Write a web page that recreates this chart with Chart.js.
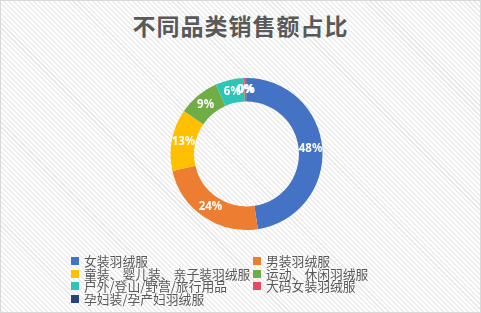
<!DOCTYPE html>
<html><head><meta charset="utf-8">
<script src="https://cdn.jsdelivr.net/npm/chart.js@4/dist/chart.umd.min.js"></script>
<style>
html,body{margin:0;padding:0;}
body{width:481px;height:313px;overflow:hidden;position:relative;
background:repeating-linear-gradient(45deg,#ffffff 0px,#ffffff 2px,#ececec 2px,#ececec 3.5px);}
#frame{position:absolute;left:0;top:0;width:479px;height:311px;border:1px solid #d9d9d9;}
#title{position:absolute;left:0;top:9px;width:481px;text-align:center;font-family:"Noto Sans CJK SC";font-size:23px;font-weight:bold;color:#595959;line-height:32px;letter-spacing:1px;}
#wrap{position:absolute;left:0;top:0;width:481px;height:313px;}
#legend{position:absolute;left:71px;top:255px;width:400px;display:grid;grid-template-columns:182px 200px;font-family:"Noto Sans CJK SC";font-size:12.8px;color:#595959;line-height:12.6px;}
#legend div{display:flex;align-items:center;white-space:nowrap;}
#legend span.b{display:inline-block;width:8px;height:8px;margin-right:5px;}
</style></head>
<body>
<div id="frame"></div>
<div id="title">不同品类销售额占比</div>
<div id="wrap"><canvas id="c" width="481" height="313"></canvas></div>
<div id="legend"></div>
<script>
const categories = ["女装羽绒服","男装羽绒服","童装、婴儿装、亲子装羽绒服","运动、休闲羽绒服","户外/登山/野营/旅行用品","大码女装羽绒服","孕妇装/孕产妇羽绒服"];
const shares = [47.6, 23.8, 13.2, 8.8, 6.1, 0.4, 0.1];
const pctLabels = ["48%","24%","13%","9%","6%","0%","0%"];
const colors = ["#4472c4","#ed7d31","#ffc000","#70ad47","#2ec4b6","#e84a5f","#264478"];

const lg = document.getElementById('legend');
categories.forEach((c,i)=>{
  const d=document.createElement('div');
  d.innerHTML='<span class="b" style="background:'+colors[i]+'"></span>'+c;
  lg.appendChild(d);
});

const labelPlugin = {
  id:'pctLabels',
  afterDatasetsDraw(chart){
    const ctx=chart.ctx;
    const meta=chart.getDatasetMeta(0);
    ctx.save();
    ctx.fillStyle='#ffffff';
    ctx.font='bold 11.5px "Noto Sans"';
    ctx.textAlign='center';ctx.textBaseline='middle';
    meta.data.forEach((arc,i)=>{
      const p=arc.tooltipPosition();
      ctx.fillText(pctLabels[i],p.x,p.y);
    });
    ctx.restore();
  }
};

new Chart(document.getElementById('c'),{
  type:'doughnut',
  data:{labels:categories,datasets:[{data:shares,backgroundColor:colors,borderWidth:0}]},
  options:{
    responsive:false,animation:false,
    cutout:'69%',
    layout:{padding:{top:78,bottom:83,left:12,right:0}},
    plugins:{legend:{display:false},tooltip:{enabled:false},title:{display:false}}
  },
  plugins:[labelPlugin]
});
</script>
</body></html>
